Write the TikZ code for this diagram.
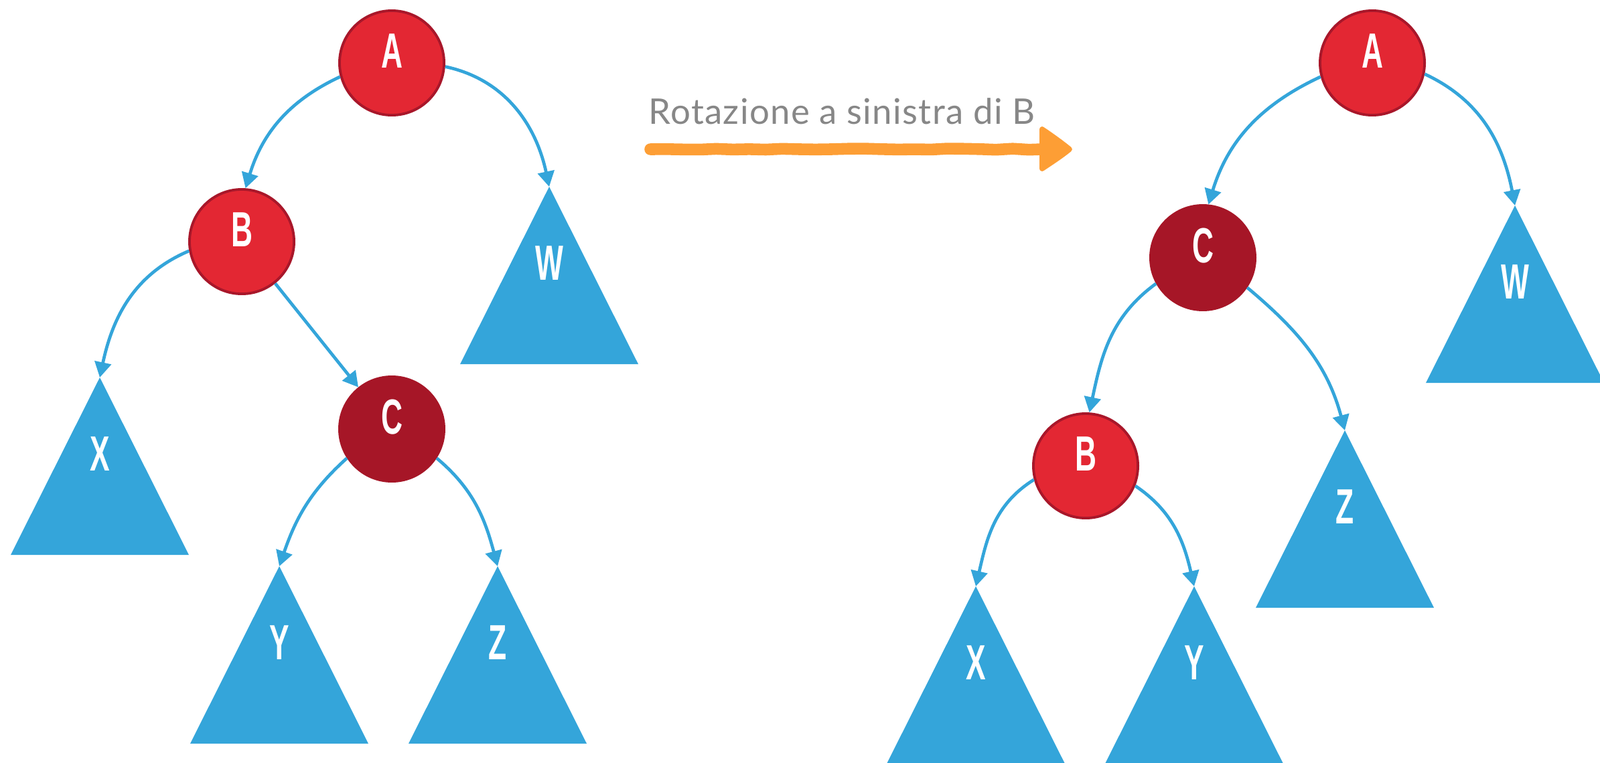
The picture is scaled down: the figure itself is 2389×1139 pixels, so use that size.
\documentclass[tikz,border=0pt]{standalone}
\usepackage{fontspec}
\setmainfont{Lato}
\newfontfamily\titlefont[LetterSpace=2.5]{Lato}
\newfontfamily\condfont[FakeStretch=0.6]{Liberation Sans}
\usetikzlibrary{arrows.meta,decorations.pathmorphing}
\definecolor{nodered}{HTML}{E32733}
\definecolor{nodeborder}{HTML}{A8172A}
\definecolor{darkred}{HTML}{A61627}
\definecolor{treeblue}{HTML}{34A5DA}
\definecolor{brushorange}{HTML}{FD9E35}
\definecolor{titlegray}{HTML}{878787}
\begin{document}
\begin{tikzpicture}[x=0.01cm,y=0.01cm,
  rednode/.style={circle, minimum size=1.56cm, inner sep=0pt, fill=nodered, draw=nodeborder, line width=1.1pt},
  darknode/.style={rednode, fill=darkred, draw=darkred},
  lettertext/.style={text=white, inner sep=0pt, font=\condfont\bfseries\fontsize{21}{21}\selectfont},
  subtree/.style={fill=treeblue},
  edge/.style={draw=treeblue, line width=1.35pt, -{Triangle[length=6.5pt,width=7pt]}},
]
\useasboundingbox (0,0) rectangle (2389,-1139);
\clip (0,0) rectangle (2389,-1139);

% ---------- left tree ----------
\node[rednode] (A1) at (585,-94) {};
\node[lettertext] (A1t) at ([yshift=0.18cm]A1.center) {A};
\node[rednode] (B1) at (361,-361) {};
\node[lettertext] (B1t) at ([yshift=0.18cm]B1.center) {B};
\node[darknode] (C1) at (585,-641) {};
\node[lettertext] (C1t) at ([yshift=0.18cm]C1.center) {C};

\coordinate (W1) at (820,-279);
\coordinate (X1) at (149,-564);
\coordinate (Y1) at (417,-846);
\coordinate (Z1) at (743,-846);
\foreach \t in {W1,X1,Y1,Z1}{
  \fill[subtree] (\t) -- ++(-133,-265) -- ++(266,0) -- cycle;
}
\node[lettertext] (W1t) at ([yshift=-1.14cm]W1) {W};
\node[lettertext] (X1t) at ([yshift=-1.14cm]X1) {X};
\node[lettertext] (Y1t) at ([yshift=-1.14cm]Y1) {Y};
\node[lettertext] (Z1t) at ([yshift=-1.14cm]Z1) {Z};

\draw[edge] (A1.195) to[out=205,in=73] (B1.86);
\draw[edge] (A1.-4) to[out=-12,in=102] (W1);
\draw[edge] (B1.190) to[out=203,in=78] (X1);
\draw[edge] (B1) -- (C1);
\draw[edge] (C1.213) to[out=222,in=71] (Y1);
\draw[edge] (C1.-33) to[out=-40,in=105] (Z1);

% ---------- operation ----------
\node[anchor=base west, inner sep=0pt, text=titlegray, font=\titlefont\fontsize{15}{15}\selectfont] (title) at (968,-185) {Rotazione a sinistra di B};
\coordinate (brushstart) at (971,-223);
\coordinate (brushend) at (1556,-223);
\coordinate (headtop) at (1556,-193);
\coordinate (headbot) at (1556,-252);
\coordinate (brushtip) at (1597,-223);
\draw[brushorange, line width=5pt, line cap=round, line join=round,
      decorate, decoration={random steps, segment length=7pt, amplitude=0.3pt}]
  (brushstart) -- (brushend);
\filldraw[brushorange, line width=2.2pt, line join=round]
  (headtop) .. controls (1568,-201) and (1585,-213) .. (brushtip)
  .. controls (1585,-233) and (1568,-244) .. (headbot)
  -- cycle;

% ---------- right tree ----------
\node[rednode] (A2) at (2049,-94) {};
\node[lettertext] (A2t) at ([yshift=0.18cm]A2.center) {A};
\node[darknode] (C2) at (1796,-385) {};
\node[lettertext] (C2t) at ([yshift=0.18cm]C2.center) {C};
\node[rednode] (B2) at (1621,-696) {};
\node[lettertext] (B2t) at ([yshift=0.18cm]B2.center) {B};

\coordinate (W2) at (2262,-307);
\coordinate (Z2) at (2008,-643);
\coordinate (X2) at (1457,-876);
\coordinate (Y2) at (1783,-876);
\foreach \t in {W2,Z2,X2,Y2}{
  \fill[subtree] (\t) -- ++(-133,-265) -- ++(266,0) -- cycle;
}
\node[lettertext] (W2t) at ([yshift=-1.14cm]W2) {W};
\node[lettertext] (Z2t) at ([yshift=-1.14cm]Z2) {Z};
\node[lettertext] (X2t) at ([yshift=-1.14cm]X2) {X};
\node[lettertext] (Y2t) at ([yshift=-1.14cm]Y2) {Y};

\draw[edge] (A2.195) to[out=205,in=73] (C2.84);
\draw[edge] (A2.-12) to[out=-25,in=101] (W2);
\draw[edge] (C2.209) to[out=216,in=78] (B2.86);
\draw[edge] (C2.-34) to[out=-40,in=105] (Z2);
\draw[edge] (B2.195) to[out=212,in=77] (X2);
\draw[edge] (B2.-22) to[out=-34,in=103] (Y2);
\end{tikzpicture}
\end{document}
